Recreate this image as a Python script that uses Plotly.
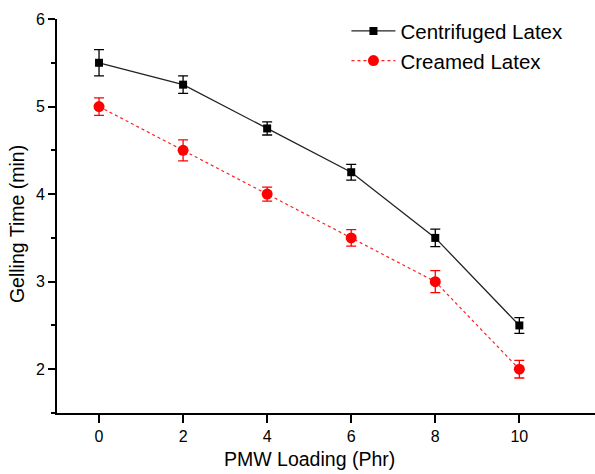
import plotly.graph_objects as go

loading = [0, 2, 4, 6, 8, 10]
centrifuged = [5.5, 5.25, 4.75, 4.25, 3.5, 2.5]
centrifuged_err = [0.15, 0.1, 0.075, 0.09, 0.1, 0.09]
creamed = [5.0, 4.5, 4.0, 3.5, 3.0, 2.0]
creamed_err = [0.1, 0.12, 0.08, 0.095, 0.125, 0.1]
x_ticks = [0, 2, 4, 6, 8, 10]
y_ticks = [2, 3, 4, 5, 6]

FONT = "Liberation Sans, Arial, sans-serif"

fig = go.Figure()
fig.add_trace(go.Scatter(
    x=loading, y=centrifuged, name="Centrifuged Latex", mode="lines+markers",
    line=dict(color="#222222", width=1.3),
    marker=dict(symbol="square", size=8, color="black"),
    error_y=dict(type="data", array=centrifuged_err, visible=True,
                 color="black", thickness=1.3, width=5),
))
fig.add_trace(go.Scatter(
    x=loading, y=creamed, name="Creamed Latex", mode="lines+markers",
    line=dict(color="#ff2020", width=1.2, dash="dot"),
    marker=dict(symbol="circle", size=11, color="#ff0000"),
    error_y=dict(type="data", array=creamed_err, visible=True,
                 color="#ff0000", thickness=1.3, width=5),
))

fig.update_layout(
    width=595, height=474,
    margin=dict(l=57, r=0, t=19, b=61),
    plot_bgcolor="white", paper_bgcolor="white",
    font=dict(family=FONT, color="black"),
    showlegend=True,
    legend=dict(x=0.538, y=1.02, xanchor="left", yanchor="top",
                font=dict(size=20.5, family=FONT, color="black"),
                bgcolor="rgba(0,0,0,0)", itemwidth=44, tracegroupgap=0),
)
fig.update_xaxes(
    range=[-1, 11.8], tickvals=x_ticks, ticktext=[str(v) for v in x_ticks],
    showgrid=False, zeroline=False, showline=True, linecolor="black", linewidth=2,
    ticks="outside", ticklen=8, tickwidth=1.8, tickcolor="black",
    tickfont=dict(size=16, family=FONT), mirror=False,
)
fig.update_yaxes(
    range=[1.5, 6], tickvals=y_ticks, ticktext=[str(v) for v in y_ticks],
    showgrid=False, zeroline=False, showline=True, linecolor="black", linewidth=2,
    ticks="outside", ticklen=7, tickwidth=1.8, tickcolor="black",
    tickfont=dict(size=16, family=FONT),
    minor=dict(dtick=0.5, ticks="outside", ticklen=4, tickwidth=1.5, tickcolor="black", showgrid=False),
)
fig.add_annotation(text="Gelling Time (min)", xref="paper", yref="paper",
                   x=-0.074, y=0.48, xanchor="center", yanchor="middle", textangle=-90,
                   showarrow=False, font=dict(size=19.5, family=FONT, color="black"))
fig.add_annotation(text="PMW Loading (Phr)", xref="x", yref="paper",
                   x=5, y=-0.15, xanchor="center", yanchor="bottom",
                   showarrow=False, font=dict(size=19.5, family=FONT, color="black"))

fig.write_html("out.html")
